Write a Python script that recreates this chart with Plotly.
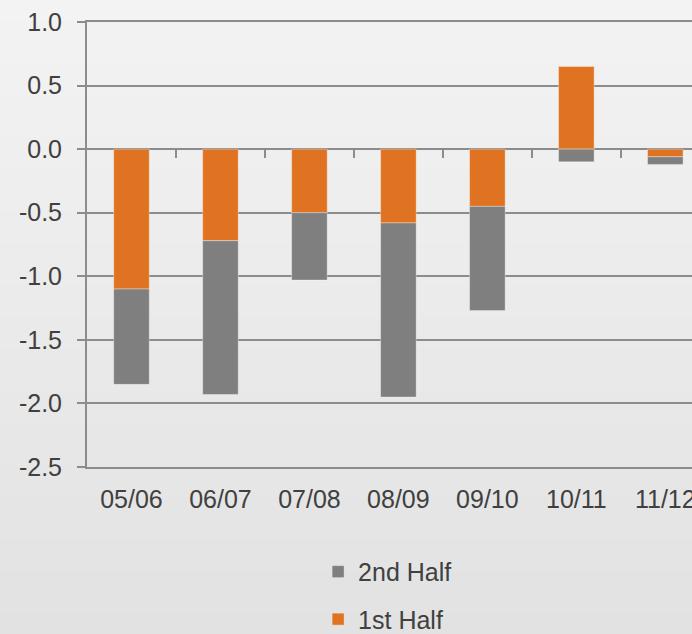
import plotly.graph_objects as go

categories = ["05/06", "06/07", "07/08", "08/09", "09/10", "10/11", "11/12"]
first_half = [-1.10, -0.72, -0.50, -0.58, -0.45, 0.65, -0.06]
second_half = [-0.75, -1.21, -0.53, -1.37, -0.82, -0.10, -0.06]
y_ticks = [1.0, 0.5, 0.0, -0.5, -1.0, -1.5, -2.0, -2.5]
y_tick_labels = ["1.0", "0.5", "0.0", "-0.5", "-1.0", "-1.5", "-2.0", "-2.5"]

ORANGE = "#E07322"
GRAY = "#7F7F7F"
LINE = "#8C8C8C"
TXT = "#404040"
FONT = "Liberation Sans, Arial, sans-serif"

fig = go.Figure()
fig.add_trace(go.Bar(x=categories, y=first_half, name="1st Half", legendgroup="a", legendrank=2,
                     marker=dict(color=ORANGE, line=dict(color="rgba(255,255,255,0.35)", width=1))))
fig.add_trace(go.Bar(x=categories, y=second_half, name="2nd Half", legendgroup="b", legendrank=1,
                     marker=dict(color=GRAY, line=dict(color="rgba(255,255,255,0.35)", width=1))))
# helper invisible trace for the tick axis along zero
fig.add_trace(go.Scatter(x=[0.5], y=[0], xaxis="x2", mode="markers",
                         marker=dict(opacity=0), showlegend=False, hoverinfo="skip"))

# background gradient bands
shapes = []
n = 60
for i in range(n):
    t = i / (n - 1)
    c = round(243 - (243 - 226) * t)
    shapes.append(dict(type="rect", xref="paper", yref="paper", layer="below",
                       x0=-0.2, x1=1.2,
                       y0=1 + 22 / 445 - (i) * (634 / 445) / n,
                       y1=1 + 22 / 445 - (i + 1) * (634 / 445) / n - 0.002,
                       fillcolor=f"rgb({c},{c},{c})", line=dict(width=0)))

ymin, ymax = -2.5, 1.0
fig.update_layout(
    width=692, height=634,
    margin=dict(l=87, r=0, t=22, b=167, autoexpand=False),
    barmode="relative", bargap=0.6,
    paper_bgcolor="#ebebeb", plot_bgcolor="rgba(0,0,0,0)",
    font=dict(family=FONT, size=25, color=TXT),
    shapes=shapes,
    xaxis=dict(type="category", range=[-0.5, 6.3], showgrid=False,
               showline=True, mirror=True, linecolor=LINE, linewidth=2,
               ticks="", ticklabelstandoff=9, automargin=False, zeroline=False),
    xaxis2=dict(overlaying="x", anchor="free", position=(0 - ymin) / (ymax - ymin),
                range=[-0.5, 6.3], tickmode="array", tickvals=[0.5, 1.5, 2.5, 3.5, 4.5, 5.5],
                showticklabels=False, ticks="outside", ticklen=8, tickwidth=2,
                tickcolor=LINE, showgrid=False, showline=False, zeroline=False,
                automargin=False, side="bottom"),
    yaxis=dict(range=[ymin, ymax], tickmode="array", tickvals=y_ticks, ticktext=y_tick_labels,
               showgrid=True, gridcolor=LINE, gridwidth=2,
               zeroline=True, zerolinecolor=LINE, zerolinewidth=2,
               showline=True, linecolor=LINE, linewidth=2,
               ticks="outside", ticklen=8, tickwidth=2, tickcolor=LINE,
               ticklabelstandoff=10, automargin=False),
    legend=dict(orientation="v", x=0.382, xanchor="left", y=-0.184, yanchor="top",
                traceorder="grouped", tracegroupgap=12,
                bgcolor="rgba(0,0,0,0)", font=dict(size=25, color=TXT)),
    showlegend=True,
)

fig.write_html("out.html")
